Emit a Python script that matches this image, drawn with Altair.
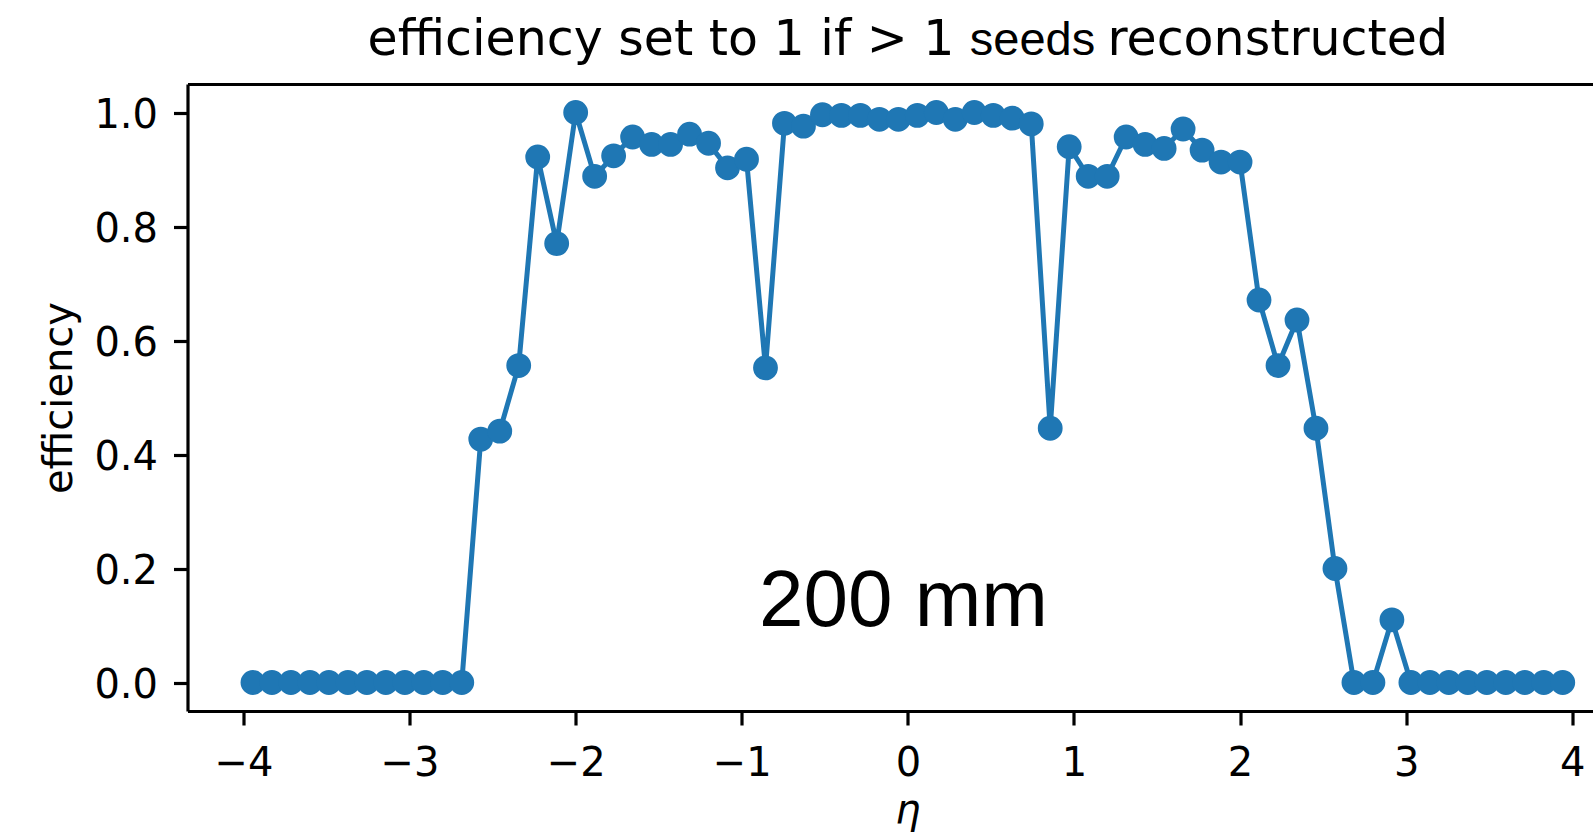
import altair as alt
import pandas as pd

# bin centres in eta (70 bins between -4 and 4)
eta = [-3.9429, -3.8286, -3.7143, -3.6000, -3.4857, -3.3714, -3.2571, -3.1429, -3.0286, -2.9143,
       -2.8000, -2.6857, -2.5714, -2.4571, -2.3429, -2.2286, -2.1143, -2.0000, -1.8857, -1.7714,
       -1.6571, -1.5429, -1.4286, -1.3143, -1.2000, -1.0857, -0.9714, -0.8571, -0.7429, -0.6286,
       -0.5143, -0.4000, -0.2857, -0.1714, -0.0571, 0.0571, 0.1714, 0.2857, 0.4000, 0.5143,
       0.6286, 0.7429, 0.8571, 0.9714, 1.0857, 1.2000, 1.3143, 1.4286, 1.5429, 1.6571,
       1.7714, 1.8857, 2.0000, 2.1143, 2.2286, 2.3429, 2.4571, 2.5714, 2.6857, 2.8000,
       2.9143, 3.0286, 3.1429, 3.2571, 3.3714, 3.4857, 3.6000, 3.7143, 3.8286, 3.9429]

efficiency = [0, 0, 0, 0, 0, 0, 0, 0, 0, 0,
              0, 0, 0.427, 0.441, 0.556, 0.922, 0.770, 1.0, 0.888, 0.924,
              0.957, 0.944, 0.944, 0.962, 0.946, 0.903, 0.918, 0.552, 0.981, 0.976,
              0.996, 0.995, 0.995, 0.988, 0.988, 0.995, 1.0, 0.988, 1.0, 0.995,
              0.990, 0.980, 0.446, 0.940, 0.888, 0.888, 0.957, 0.944, 0.937, 0.971,
              0.934, 0.913, 0.913, 0.671, 0.556, 0.636, 0.446, 0.200, 0, 0,
              0.110, 0, 0, 0, 0, 0, 0, 0, 0, 0]

x_ticks = [-4, -3, -2, -1, 0, 1, 2, 3, 4]
y_ticks = [0.0, 0.2, 0.4, 0.6, 0.8, 1.0]
title_parts = ["efficiency set to 1 if > 1", "seeds", "reconstructed"]
annotation = ["200 mm"]
x_title = "η"
y_title = "efficiency"

df = pd.DataFrame({"eta": eta, "efficiency": efficiency})

W = 1405.5
H = 627
C0 = "#1f77b4"
FONT = "DejaVu Sans"

xscale = alt.Scale(domain=[-4.337, 4.125], nice=False, zero=False)
yscale = alt.Scale(domain=[-0.05, 1.05], nice=False, zero=False)

xaxis = alt.Axis(values=x_ticks, format="d", grid=False,
                 domainColor="black", domainWidth=3.2,
                 tickColor="black", tickWidth=3.2, tickSize=14,
                 labelFont=FONT, labelFontSize=40, labelColor="black",
                 labelPadding=18, labelFlush=False, labelOverlap=False,
                 title=x_title, titleFont=FONT, titleFontSize=40,
                 titleFontStyle="italic", titleFontWeight="normal", titleColor="black",
                 titleX=720, titleY=111, titleBaseline="alphabetic", titleAlign="center")

yaxis = alt.Axis(values=y_ticks, format=".1f", grid=False,
                 domainColor="black", domainWidth=3.2,
                 tickColor="black", tickWidth=3.2, tickSize=14,
                 labelFont=FONT, labelFontSize=40, labelColor="black",
                 labelPadding=16, labelFlush=False, labelOverlap=False,
                 labelBaseline="alphabetic", labelOffset=14.5,
                 title=y_title, titleFont=FONT, titleFontSize=40,
                 titleFontWeight="normal", titleColor="black",
                 titleAngle=270, titleX=-116.5, titleY=313.5,
                 titleBaseline="alphabetic", titleAlign="center")

topaxis = alt.Axis(orient="top", labels=False, ticks=False, title="", grid=False,
                   domainColor="black", domainWidth=3.2)

base = alt.Chart(df)

line = base.mark_line(
    color=C0, strokeWidth=5,
    point=alt.OverlayMarkDef(filled=True, size=616, color=C0, opacity=1, shape="circle"),
).encode(
    x=alt.X("eta:Q", scale=xscale, axis=xaxis),
    y=alt.Y("efficiency:Q", scale=yscale, axis=yaxis),
)

top = base.mark_point(opacity=0).encode(
    x=alt.X("eta:Q", scale=xscale, axis=topaxis),
)

t1 = alt.Chart(pd.DataFrame({"t": [title_parts[0]]})).mark_text(
    font=FONT, fontSize=49, color="black", align="left", baseline="alphabetic"
).encode(text="t:N", x=alt.value(180), y=alt.value(-29))

t2 = alt.Chart(pd.DataFrame({"t": [title_parts[1]]})).mark_text(
    font="Liberation Sans", fontSize=47, color="black", align="center", baseline="alphabetic"
).encode(text="t:N", x=alt.value(845), y=alt.value(-29))

t3 = alt.Chart(pd.DataFrame({"t": [title_parts[2]]})).mark_text(
    font=FONT, fontSize=49, color="black", align="right", baseline="alphabetic"
).encode(text="t:N", x=alt.value(1260.5), y=alt.value(-29))

ann = alt.Chart(pd.DataFrame({"t": annotation})).mark_text(
    font="Liberation Sans", fontSize=80, color="black", align="center", baseline="alphabetic"
).encode(text="t:N", x=alt.value(716), y=alt.value(542))

chart = alt.layer(top, line, t1, t2, t3, ann).resolve_axis(
    x="independent"
).properties(
    width=W, height=H,
    padding={"left": 187.5, "top": 84, "right": 0, "bottom": 128},
    autosize=alt.AutoSizeParams(type="none"),
    background="white",
).configure_view(strokeWidth=0)

chart.save("out.html", embed_options={"renderer": "svg", "actions": False})
